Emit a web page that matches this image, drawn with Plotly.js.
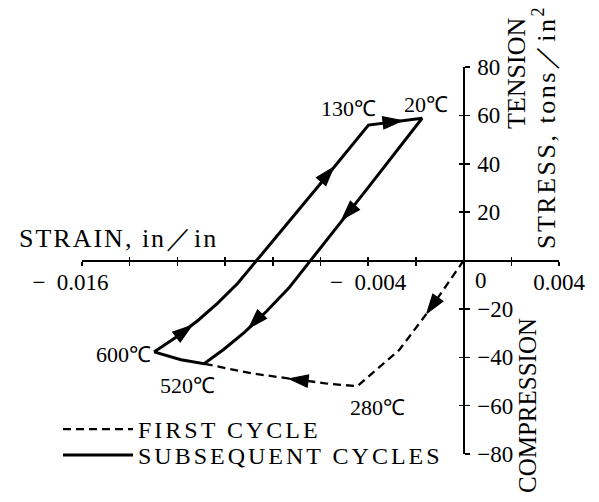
<!DOCTYPE html>
<html>
<head>
<meta charset="utf-8">
<script src="https://cdn.plot.ly/plotly-3.0.1.min.js"></script>
<style>
  html, body { margin: 0; padding: 0; background: #fff; }
  #chart { width: 599px; height: 502px; }
  .legendtext, .legend2text { letter-spacing: 3px; }
</style>
</head>
<body>
<div id="chart"></div>
<script>
// ---- data ----
// first cycle (dashed): origin -> 280℃ -> 520℃
const firstX = [0, -0.0007, -0.0014, -0.0027, -0.00446, -0.0058, -0.0073, -0.0088, -0.01088];
const firstY = [0, -10, -20, -37, -52, -50.8, -48.9, -46.8, -42.7];

// subsequent cycles (solid loop): 600℃ -> 130℃ -> 20℃ -> 520℃ -> 600℃
const subsX = [-0.01298, -0.01206, -0.01114, -0.01031, -0.00947, -0.00868, -0.00725, -0.00558, -0.00399,
               -0.00174, -0.00407, -0.00641, -0.00733, -0.00826, -0.00918, -0.01005, -0.01088, -0.01185, -0.01298];
const subsY = [-37.8, -31.7, -24.8, -17.6, -9.4, 0, 16.6, 36.8, 56.0,
               58.8, 29.3, 0, -11.4, -21.0, -29.6, -36.7, -42.7, -41.0, -37.8];

// direction arrows: (tail, tip) pairs lying on the curves
const arrowX = [-0.0122, -0.0114, -0.0061, -0.00545, -0.0033, -0.00258, -0.0045, -0.0051, -0.0083, -0.0090, -0.0064, -0.00732, -0.0009, -0.00154];
const arrowY = [-32.8, -26.9, 31.2, 38.6, 57.0, 57.8, 23.4, 17.0, -20.6, -27.9, -50.0, -48.9, -12.9, -21.8];
const arrowSize = [0, 20, 0, 20, 0, 20, 0, 20, 0, 20, 0, 20, 0, 20];

// temperature labels at the corners
const tempLabels = ['20℃', '130℃', '600℃', '520℃', '280℃'];
const tempX = [-0.00174, -0.00399, -0.01298, -0.01088, -0.00446];
const tempY = [58.8, 56.0, -37.8, -42.7, -52];

// axis ticks
const xTickVals = [-0.016, -0.014, -0.012, -0.010, -0.008, -0.006, -0.004, -0.002, 0, 0.002, 0.004];
const xTickText = ['−\u00a0\u00a00.016\u00a0\u00a0\u00a0\u00a0', '', '', '', '', '', '−\u00a0\u00a00.004', '', '', '', '0.004'];
const yTickVals = [-80, -60, -40, -20, 0, 20, 40, 60, 80];
const yTickText = ['−80', '−60', '−40', '−20', '', '20', '40', '60', '80'];

const seriesNames = ['FIRST CYCLE', 'SUBSEQUENT CYCLES'];

// ---- styling ----
const FONT = 'Liberation Serif, Times New Roman, serif';
const INK = '#000000';

const traces = [
  { x: firstX, y: firstY, type: 'scatter', mode: 'lines', name: seriesNames[0],
    line: { color: INK, width: 2.3, dash: '8px,5px' }, legend: 'legend', hoverinfo: 'skip' },
  { x: subsX, y: subsY, type: 'scatter', mode: 'lines', name: seriesNames[1],
    line: { color: INK, width: 3 }, legend: 'legend2', hoverinfo: 'skip' },
  { x: arrowX, y: arrowY, type: 'scatter', mode: 'markers', showlegend: false, hoverinfo: 'skip',
    marker: { symbol: 'arrow', size: arrowSize, angleref: 'previous', color: INK, opacity: 1,
              line: { width: 1.2, color: INK } } },
  // carrier for the crossing (inside) ticks
  { x: [], y: [], type: 'scatter', mode: 'markers', xaxis: 'x2', yaxis: 'y2', showlegend: false, hoverinfo: 'skip' }
];

const L = 82, R = 40, T = 67, B = 48;
const W = 599, H = 502;
const pw = W - L - R, ph = H - T - B;
const px = v => (v - L) / pw;           // pixel -> paper x
const py = v => 1 - (v - T) / ph;       // pixel -> paper y

const tickFont = { family: FONT, size: 23, color: INK };
const axCommon = { showgrid: false, zeroline: false, color: INK, tickcolor: INK, fixedrange: true };

const annotations = [
  { text: 'STRAIN, in／in', xref: 'paper', yref: 'paper', x: px(118), y: py(238),
    xanchor: 'center', yanchor: 'middle', showarrow: false, font: { family: FONT, size: 26, color: INK } },
  { text: 'TENSION', xref: 'paper', yref: 'paper', x: px(516), y: py(74), textangle: -90,
    xanchor: 'center', yanchor: 'middle', showarrow: false, font: { family: FONT, size: 26, color: INK } },
  { text: 'STRESS, tons／in<sup>2</sup>', xref: 'paper', yref: 'paper', x: px(544), y: py(127), textangle: -90,
    xanchor: 'center', yanchor: 'middle', showarrow: false, font: { family: FONT, size: 26, color: INK } },
  { text: 'COMPRESSION', xref: 'paper', yref: 'paper', x: px(527), y: py(406), textangle: -90,
    xanchor: 'center', yanchor: 'middle', showarrow: false, font: { family: FONT, size: 25, color: INK } },
  { text: '0', xref: 'x', yref: 'y', x: 0, y: 0, xshift: 17, yshift: -20,
    xanchor: 'center', yanchor: 'middle', showarrow: false, font: tickFont }
];
const tempShift = [[4, 14], [-20, 17], [-31, -3], [-17, -22], [20, -21]];
tempLabels.forEach((t, i) => {
  annotations.push({ text: t, xref: 'x', yref: 'y', x: tempX[i], y: tempY[i],
    xshift: tempShift[i][0], yshift: tempShift[i][1], xanchor: 'center', yanchor: 'middle',
    showarrow: false, font: { family: FONT, size: 22, color: INK } });
});

const layout = {
  width: W, height: H,
  margin: { l: L, r: R, t: T, b: B, pad: 0 },
  paper_bgcolor: '#ffffff', plot_bgcolor: '#ffffff',
  showlegend: true,
  legend: { x: px(58), y: py(407), xanchor: 'left', yanchor: 'top', bgcolor: 'rgba(0,0,0,0)',
    font: { family: FONT, size: 24, color: INK }, itemwidth: 70, borderwidth: 0 },
  legend2: { x: px(58), y: py(433), xanchor: 'left', yanchor: 'top', bgcolor: 'rgba(0,0,0,0)',
    font: { family: FONT, size: 24, color: INK }, itemwidth: 70, borderwidth: 0 },
  xaxis: Object.assign({}, axCommon, {
    range: [-0.016, 0.004], anchor: 'free', position: 0.5,
    showline: true, linewidth: 2, linecolor: INK,
    tickmode: 'array', tickvals: xTickVals, ticktext: xTickText,
    ticks: 'outside', ticklen: 4, tickwidth: 1.5, tickfont: tickFont, ticklabelstandoff: -3
  }),
  xaxis2: Object.assign({}, axCommon, {
    range: [-0.016, 0.004], overlaying: 'x', anchor: 'free', position: 0.5,
    showline: false, tickmode: 'array', tickvals: xTickVals,
    ticks: 'inside', ticklen: 4, tickwidth: 1.5, showticklabels: false
  }),
  yaxis: Object.assign({}, axCommon, {
    range: [-80, 80], anchor: 'free', position: 0.8, side: 'right',
    showline: true, linewidth: 2, linecolor: INK,
    tickmode: 'array', tickvals: yTickVals, ticktext: yTickText,
    ticks: 'outside', ticklen: 5, tickwidth: 1.5, tickfont: tickFont, ticklabelstandoff: 3
  }),
  yaxis2: Object.assign({}, axCommon, {
    range: [-80, 80], overlaying: 'y', anchor: 'free', position: 0.8, side: 'right',
    showline: false, tickmode: 'array', tickvals: yTickVals,
    ticks: 'inside', ticklen: 5, tickwidth: 1.5, showticklabels: false
  }),
  annotations: annotations
};

Plotly.newPlot('chart', traces, layout, { staticPlot: true, displayModeBar: false }).then(() => {
  document.querySelectorAll('.annotation').forEach(a => {
    const idx = +a.getAttribute('data-index');
    const t = a.querySelector('.annotation-text');
    if (!t) return;
    if (idx === 0) t.style.letterSpacing = '2px';
    if (idx === 2) t.style.letterSpacing = '2.5px';
  });
});
</script>
</body>
</html>
